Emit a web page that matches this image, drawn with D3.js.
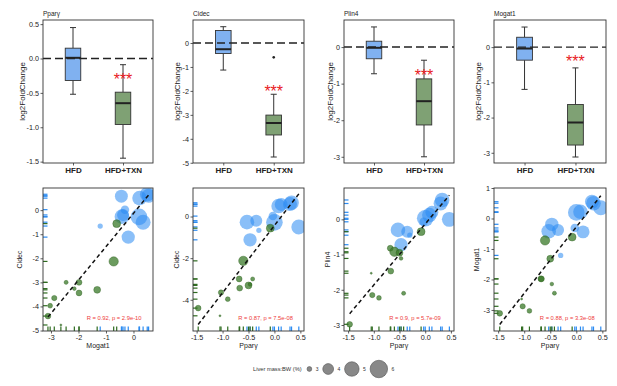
<!DOCTYPE html>
<html><head><meta charset="utf-8">
<script src="https://cdn.jsdelivr.net/npm/d3@7"></script>
<style>body{margin:0;background:#fff;} svg text{font-family:"Liberation Sans",Arial,sans-serif;}</style>
</head><body><svg id="c" width="617" height="386"></svg>
<script>
// ---------------- data ----------------
const genes = ["Pparγ", "Cidec", "Plin4", "Mogat1"];
const groups = ["HFD", "HFD+TXN"];

// boxplot statistics per gene (Pparγ, Cidec, Plin4, Mogat1)
const hfdMin = [-0.52, -1.13, -0.73, -1.20];
const hfdQ1  = [-0.32, -0.44, -0.32, -0.37];
const hfdMed = [ 0.01, -0.26, -0.02, -0.04];
const hfdQ3  = [ 0.15,  0.52,  0.16,  0.28];
const hfdMax = [ 0.45,  0.68,  0.55,  0.57];
const txnMin = [-1.45, -4.76, -3.00, -3.12];
const txnQ1  = [-0.96, -3.84, -2.13, -2.78];
const txnMed = [-0.65, -3.34, -1.48, -2.14];
const txnQ3  = [-0.49, -3.01, -0.87, -1.63];
const txnMax = [-0.09, -2.14, -0.36, -0.59];
const txnOutliers = [[], [-0.60], [], []];
const starY = [-0.24, -1.85, -0.67, -0.29];

const topTicks = [[-1.5, -1.0, -0.5, 0.0, 0.5], [-5, -4, -3, -2, -1, 0], [-3, -2, -1, 0], [-3, -2, -1, 0]];

// per-mouse values
const mouseGroup = ["HFD","HFD","HFD","HFD","HFD","HFD","HFD","HFD","HFD","HFD","HFD",
  "HFD+TXN","HFD+TXN","HFD+TXN","HFD+TXN","HFD+TXN","HFD+TXN","HFD+TXN","HFD+TXN","HFD+TXN","HFD+TXN","HFD+TXN"];
const ppary  = [-0.30,-0.47,-0.53,-0.35, 0.13, 0.33, 0.47, 0.00,-0.03, 0.08, 0.30,
  -1.47,-1.03,-0.90,-1.05,-0.68,-0.67,-0.60,-0.50,-0.42,-0.47,-0.08];
const cidec  = [-0.66,-1.12,-0.27,-0.20, 0.58, 0.66,-0.50,-0.28, 0.02, 0.50, 0.60,
  -4.40,-3.65,-3.97,-4.77,-3.00,-3.44,-2.13,-3.31,-3.00,-3.26,-0.56];
const plin4  = [-0.45,-0.72,-0.30,-0.35, 0.20, 0.55, 0.00, 0.03,-0.07, 0.12, 0.45,
  -2.98,-2.15,-2.23,-1.53,-0.82,-1.47,-0.92,-0.95,-2.10,-1.11,-0.35];
const mogat1 = [-1.21,-0.19,-0.42,-0.38,-0.44, 0.50, 0.35, 0.20,-0.31, 0.22, 0.55,
  -3.11,-2.88,-3.03,-2.64,-1.98,-1.98,-0.72,-1.32,-2.45,-2.15,-0.61];
const liverBW = [3.05, 4.64, 5.02, 4.28, 4.53, 5.02, 5.13, 5.69, 3.53, 5.00, 4.83,
  3.10, 3.05, 3.00, 2.80, 3.12, 3.12, 3.68, 3.26, 2.93, 2.90, 3.42];

const corrText = ["R = 0.92, p = 2.9e-10", "R = 0.87, p = 7.5e-08", "R = 0.9, p = 5.7e-09", "R = 0.88, p = 3.3e-08"];
const corrX = [-1.7, -0.7, -0.7, -0.7];
const legendValues = [3, 4, 5, 6];
const legendTitle = "Liver mass:BW (%)";

// ---------------- layout ----------------
const svg = d3.select("#c");
const panelX = [[43, 153], [193, 304], [344, 454], [494, 606]];
const topY = [20, 163], botY = [188, 331];
const topDomains = [[-1.52, 0.56], [-5.01, 0.96], [-3.17, 0.74], [-3.29, 0.77]];
const topTitleX = [22, 177, 330, 478];
const botTitleX = [20, 177, 328, 477];
const colBox = {"HFD": "#80B1F0", "HFD+TXN": "#7FA174"};
const colPt = {"HFD": "#2A8BF2", "HFD+TXN": "#3A7A28"};
const colRug = {"HFD": "#2A8BF2", "HFD+TXN": "#2E6B1F"};

function styleAxis(g, fs, bold) {
  g.select(".domain").remove();
  g.selectAll("line").attr("stroke", "#333").attr("stroke-width", 0.8);
  g.selectAll("text").attr("fill", "#222").style("font-size", fs + "px")
    .style("font-weight", bold ? "bold" : "normal");
}

// ---------------- top boxplots ----------------
genes.forEach((gname, i) => {
  const [x0, x1] = panelX[i];
  const x = d3.scalePoint().domain(groups).range([x0, x1]).padding(0.6);
  const step = x.step();
  const y = d3.scaleLinear().domain(topDomains[i]).range([topY[1], topY[0]]);
  const g = svg.append("g");
  g.append("rect").attr("x", x0).attr("y", topY[0]).attr("width", x1 - x0).attr("height", topY[1] - topY[0]).attr("fill", "#fff");

  const stats = [
    {grp: "HFD", min: hfdMin[i], q1: hfdQ1[i], med: hfdMed[i], q3: hfdQ3[i], max: hfdMax[i], out: []},
    {grp: "HFD+TXN", min: txnMin[i], q1: txnQ1[i], med: txnMed[i], q3: txnQ3[i], max: txnMax[i], out: txnOutliers[i]}
  ];
  const bw = 0.31 * step, cw = 0.12 * step;
  stats.forEach(s => {
    const cx = x(s.grp);
    g.append("line").attr("x1", cx).attr("x2", cx).attr("y1", y(s.q3)).attr("y2", y(s.max)).attr("stroke", "#333").attr("stroke-width", 1);
    g.append("line").attr("x1", cx).attr("x2", cx).attr("y1", y(s.q1)).attr("y2", y(s.min)).attr("stroke", "#333").attr("stroke-width", 1);
    [s.min, s.max].forEach(v => g.append("line").attr("x1", cx - cw / 2).attr("x2", cx + cw / 2).attr("y1", y(v)).attr("y2", y(v)).attr("stroke", "#333").attr("stroke-width", 1));
    g.append("rect").attr("x", cx - bw / 2).attr("width", bw).attr("y", y(s.q3)).attr("height", y(s.q1) - y(s.q3))
      .attr("fill", colBox[s.grp]).attr("stroke", "#333").attr("stroke-width", 0.9);
    g.append("line").attr("x1", cx - bw / 2).attr("x2", cx + bw / 2).attr("y1", y(s.med)).attr("y2", y(s.med)).attr("stroke", "#222").attr("stroke-width", 2);
    s.out.forEach(v => g.append("circle").attr("cx", cx).attr("cy", y(v)).attr("r", 1.3).attr("fill", "#222"));
  });
  g.append("line").attr("x1", x0).attr("x2", x1).attr("y1", y(0)).attr("y2", y(0))
    .attr("stroke", "#222").attr("stroke-width", 1.4).attr("stroke-dasharray", "8,4");
  g.append("text").attr("x", x("HFD+TXN")).attr("y", y(starY[i]) + 9.5).attr("text-anchor", "middle")
    .attr("fill", "#E8191E").style("font-size", "16px").text("***");
  g.append("rect").attr("x", x0).attr("y", topY[0]).attr("width", x1 - x0).attr("height", topY[1] - topY[0])
    .attr("fill", "none").attr("stroke", "#333").attr("stroke-width", 0.9);

  const fmt = i === 0 ? d3.format(".1f") : d3.format("d");
  const ya = g.append("g").attr("transform", `translate(${x0},0)`)
    .call(d3.axisLeft(y).tickValues(topTicks[i]).tickSize(2.5).tickPadding(1.5).tickFormat(v => fmt(v).replace("−", "-")));
  styleAxis(ya, 7.2, false);
  const xa = g.append("g").attr("transform", `translate(0,${topY[1]})`)
    .call(d3.axisBottom(x).tickSize(2.5).tickPadding(2));
  styleAxis(xa, 8, true);

  g.append("text").attr("x", x0).attr("y", 15.5).style("font-size", "6.5px").attr("fill", "#222").text(gname);
  g.append("text").attr("transform", `translate(${topTitleX[i]},${(topY[0] + topY[1]) / 2}) rotate(-90)`)
    .attr("text-anchor", "middle").attr("dy", "0.35em").style("font-size", "8px").attr("fill", "#222").text("log2FoldChange");
});

// ---------------- bottom scatter plots ----------------
const scatterDefs = [
  {xv: mogat1, yv: cidec, xn: "Mogat1", yn: "Cidec", xd: [-3.29, 0.71], yd: [-5.02, 0.92], xt: [-3, -2, -1, 0], yt: [-5, -4, -3, -2, -1, 0], xf: "d"},
  {xv: ppary, yv: cidec, xn: "Pparγ", yn: "Cidec", xd: [-1.57, 0.57], yd: [-5.5, 1.37], xt: [-1.5, -1.0, -0.5, 0.0, 0.5], yt: [-4, -2, 0], xf: ".1f"},
  {xv: ppary, yv: plin4, xn: "Pparγ", yn: "Plin4", xd: [-1.58, 0.56], yd: [-3.17, 0.89], xt: [-1.5, -1.0, -0.5, 0.0, 0.5], yt: [-3, -2, -1, 0], xf: ".1f"},
  {xv: ppary, yv: mogat1, xn: "Pparγ", yn: "Mogat1", xd: [-1.58, 0.57], yd: [-3.69, 1.0], xt: [-1.5, -1.0, -0.5, 0.0, 0.5], yt: [-3, -2, -1, 0, 1], xf: ".1f"}
];
const rScale = d3.scaleRadial().domain([2.8, 6.2]).range([1.0, 9.0]);

scatterDefs.forEach((d, i) => {
  const [x0, x1] = panelX[i];
  const x = d3.scaleLinear().domain(d.xd).range([x0, x1]);
  const y = d3.scaleLinear().domain(d.yd).range([botY[1], botY[0]]);
  const g = svg.append("g");
  const cid = "clip" + i;
  g.append("clipPath").attr("id", cid).append("rect").attr("x", x0).attr("y", botY[0]).attr("width", x1 - x0).attr("height", botY[1] - botY[0]);
  const inner = g.append("g").attr("clip-path", `url(#${cid})`);
  const pts = d.xv.map((v, k) => ({x: v, y: d.yv[k], grp: mouseGroup[k], s: liverBW[k]}));
  const order = pts.filter(p => p.grp === "HFD").concat(pts.filter(p => p.grp !== "HFD"));
  inner.selectAll("circle").data(order).join("circle")
    .attr("cx", p => x(p.x)).attr("cy", p => y(p.y)).attr("r", p => rScale(p.s))
    .attr("fill", p => colPt[p.grp]).attr("fill-opacity", p => p.grp === "HFD" ? 0.55 : 0.75)
    .attr("stroke", p => p.grp === "HFD" ? "none" : "#2c5e1e").attr("stroke-width", 0.5).attr("stroke-opacity", 0.8);
  // rugs
  inner.selectAll("line.rx").data(pts).join("line").attr("class", "rx")
    .attr("x1", p => x(p.x)).attr("x2", p => x(p.x)).attr("y1", botY[1]).attr("y2", botY[1] - 4.5)
    .attr("stroke", p => colRug[p.grp]).attr("stroke-width", 1.2);
  inner.selectAll("line.ry").data(pts).join("line").attr("class", "ry")
    .attr("y1", p => y(p.y)).attr("y2", p => y(p.y)).attr("x1", x0).attr("x2", x0 + 4.5)
    .attr("stroke", p => colRug[p.grp]).attr("stroke-width", 1.2);
  // linear fit
  const mx = d3.mean(pts, p => p.x), my = d3.mean(pts, p => p.y);
  const b = d3.sum(pts, p => (p.x - mx) * (p.y - my)) / d3.sum(pts, p => (p.x - mx) ** 2);
  const a = my - b * mx;
  const [ex0, ex1] = d3.extent(pts, p => p.x);
  inner.append("line").attr("x1", x(ex0)).attr("x2", x(ex1)).attr("y1", y(a + b * ex0)).attr("y2", y(a + b * ex1))
    .attr("stroke", "#111").attr("stroke-width", 1.5).attr("stroke-dasharray", "4,3");
  g.append("text").attr("x", x(corrX[i])).attr("y", botY[1] - 11).style("font-size", "5.8px").attr("fill", "#EE3B3B").text(corrText[i]);
  g.append("rect").attr("x", x0).attr("y", botY[0]).attr("width", x1 - x0).attr("height", botY[1] - botY[0])
    .attr("fill", "none").attr("stroke", "#333").attr("stroke-width", 0.9);
  const xfmt = d3.format(d.xf);
  const xa = g.append("g").attr("transform", `translate(0,${botY[1]})`)
    .call(d3.axisBottom(x).tickValues(d.xt).tickSize(2.5).tickPadding(1.5).tickFormat(v => xfmt(v).replace("−", "-")));
  styleAxis(xa, 7.2, false);
  const ya = g.append("g").attr("transform", `translate(${x0},0)`)
    .call(d3.axisLeft(y).tickValues(d.yt).tickSize(2.5).tickPadding(1.5).tickFormat(v => d3.format("d")(v).replace("−", "-")));
  styleAxis(ya, 7.2, false);
  g.append("text").attr("x", (x0 + x1) / 2).attr("y", 348).attr("text-anchor", "middle").style("font-size", "7px").attr("fill", "#222").text(d.xn);
  g.append("text").attr("transform", `translate(${botTitleX[i]},${(botY[0] + botY[1]) / 2}) rotate(-90)`)
    .attr("text-anchor", "middle").attr("dy", "0.35em").style("font-size", "7px").attr("fill", "#222").text(d.yn);
});

// ---------------- legend ----------------
const lg = svg.append("g");
lg.append("text").attr("x", 253).attr("y", 371).style("font-size", "5.7px").attr("fill", "#333").text(legendTitle);
let lx = 307;
legendValues.forEach(v => {
  const r = rScale(v);
  const cx = lx + r;
  lg.append("circle").attr("cx", cx).attr("cy", 369).attr("r", r).attr("fill", "#888").attr("stroke", "#555").attr("stroke-width", 0.6);
  lg.append("text").attr("x", cx + r + 4).attr("y", 371).style("font-size", "5px").attr("fill", "#333").text(v);
  lx = cx + r + 11;
});
</script></body></html>
